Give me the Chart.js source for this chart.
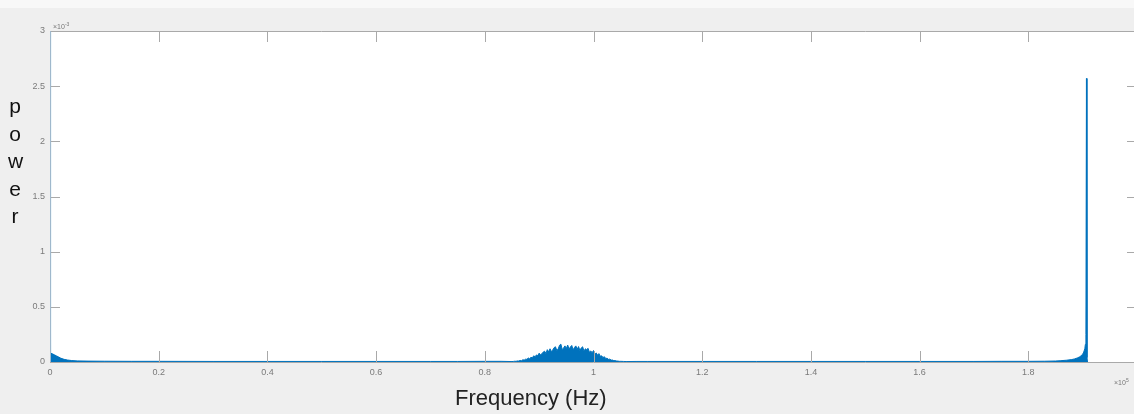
<!DOCTYPE html>
<html>
<head>
<meta charset="utf-8">
<script src="https://cdn.jsdelivr.net/npm/chart.js@4"></script>
<style>
  html, body { margin: 0; padding: 0; background: #efefef; overflow: hidden; }
  #wrap { position: relative; width: 1160px; height: 414px; }
  #topstrip { position: absolute; left: 0; top: 0; width: 1160px; height: 8px; background: #f8f8f8; }
  #chart { position: absolute; left: 0; top: 0; }
  .lbl { position: absolute; font-family: "Liberation Sans", Arial, sans-serif; }
  #ytitle { left: 8px; top: 92px; font-size: 21px; line-height: 27.5px; color: #111; text-align: center; width: 14px; }
  #xtitle { left: 455px; top: 385px; font-size: 22px; color: #222; }
  #yexp { left: 53px; top: 21px; font-size: 7px; color: #777; }
  #xexp { left: 1114px; top: 377px; font-size: 7px; color: #777; }
  sup { font-size: 5px; }
</style>
</head>
<body>
<div id="wrap">
  <div id="topstrip"></div>
  <canvas id="chart" width="1160" height="414"></canvas>
  <div class="lbl" id="ytitle">p<br>o<br>w<br>e<br>r</div>
  <div class="lbl" id="xtitle">Frequency (Hz)</div>
  <div class="lbl" id="yexp">&times;10<sup>-3</sup></div>
  <div class="lbl" id="xexp">&times;10<sup>5</sup></div>
</div>
<script>
// frequency in units of 1e5 Hz, power in units of 1e-3
const freq = [
  0, 0.001, 0.004, 0.008, 0.012, 0.016, 0.02, 0.026, 0.032, 0.04, 0.05, 0.07, 0.1, 0.15, 0.2, 0.3, 0.4, 0.5, 0.6, 0.7, 0.75, 0.8, 0.83,
  0.85, 0.8525, 0.855, 0.8575, 0.86, 0.8625, 0.865, 0.8675, 0.87, 0.8725, 0.875, 0.8775, 0.88, 0.8825, 0.885, 0.8875,
  0.89, 0.8925, 0.895, 0.8975, 0.9, 0.9025, 0.905, 0.9075, 0.91, 0.9125, 0.915, 0.9175, 0.92, 0.9225, 0.925, 0.9275,
  0.93, 0.9325, 0.935, 0.9375, 0.94, 0.9425, 0.945, 0.9475, 0.95, 0.9525, 0.955, 0.9575, 0.96, 0.9625, 0.965, 0.9675,
  0.97, 0.9725, 0.975, 0.9775, 0.98, 0.9825, 0.985, 0.9875, 0.99, 0.9925, 0.995, 0.9975, 1.0, 1.0025, 1.005, 1.0075,
  1.01, 1.0125, 1.015, 1.0175, 1.02, 1.0225, 1.025, 1.0275, 1.03, 1.0325, 1.035, 1.0375, 1.04, 1.0425, 1.045, 1.0475,
  1.05, 1.055, 1.06, 1.08, 1.1, 1.2, 1.3, 1.4, 1.5, 1.6, 1.7, 1.75, 1.8, 1.83, 1.85, 1.86, 1.87, 1.88, 1.885, 1.89, 1.895, 1.9, 1.902,
  1.904, 1.905, 1.906, 1.907, 1.908, 1.909
];
const power = [
  3.5, 0.08, 0.075, 0.065, 0.055, 0.045, 0.034, 0.024, 0.018, 0.013, 0.01, 0.008, 0.007, 0.006, 0.006, 0.005, 0.005, 0.005, 0.005, 0.005, 0.005, 0.006, 0.006,
  0.004, 0.005, 0.007, 0.006, 0.010, 0.009, 0.014, 0.012, 0.020, 0.017, 0.026, 0.024, 0.036, 0.030, 0.042, 0.038,
  0.056, 0.047, 0.064, 0.058, 0.080, 0.066, 0.074, 0.090, 0.098, 0.078, 0.112, 0.092, 0.120, 0.096, 0.108, 0.130,
  0.138, 0.104, 0.118, 0.152, 0.162, 0.112, 0.128, 0.146, 0.122, 0.154, 0.118, 0.136, 0.150, 0.110, 0.132, 0.146,
  0.116, 0.140, 0.104, 0.128, 0.138, 0.098, 0.120, 0.112, 0.124, 0.088, 0.100, 0.084, 0.104, 0.070, 0.082, 0.062,
  0.076, 0.052, 0.056, 0.040, 0.048, 0.032, 0.034, 0.024, 0.026, 0.017, 0.018, 0.012, 0.013, 0.009, 0.008, 0.006,
  0.006, 0.005, 0.004, 0.005, 0.005, 0.005, 0.005, 0.005, 0.005, 0.005, 0.005, 0.006, 0.006, 0.007, 0.009, 0.012, 0.016, 0.022, 0.028, 0.036, 0.048, 0.07, 0.09,
  0.12, 0.16, 0.25, 2.57, 0.04, 0
];
const xTicks = [0, 0.2, 0.4, 0.6, 0.8, 1, 1.2, 1.4, 1.6, 1.8, 2];
const yTicks = [0, 0.5, 1, 1.5, 2, 2.5, 3];

const blue = '#0072BD';
const axisGray = '#a9a9a9';

const boxPlugin = {
  id: 'box',
  beforeDraw(chart) {
    const { ctx, chartArea: a } = chart;
    ctx.save();
    ctx.fillStyle = '#ffffff';
    ctx.fillRect(a.left, a.top, a.right - a.left, a.bottom - a.top);
    ctx.restore();
  },
  afterDatasetsDraw(chart) {
    const { ctx, chartArea: a, scales } = chart;
    ctx.save();
    ctx.strokeStyle = axisGray;
    ctx.lineWidth = 1;
    ctx.beginPath();
    ctx.moveTo(a.left, a.top + 0.5); ctx.lineTo(a.right, a.top + 0.5);
    ctx.moveTo(a.left, a.bottom + 0.5); ctx.lineTo(a.right, a.bottom + 0.5);
    ctx.moveTo(a.right - 0.5, a.top); ctx.lineTo(a.right - 0.5, a.bottom);
    xTicks.forEach(v => {
      const x = Math.round(scales.x.getPixelForValue(v)) + 0.5;
      ctx.moveTo(x, a.bottom); ctx.lineTo(x, a.bottom - 11);
      ctx.moveTo(x, a.top); ctx.lineTo(x, a.top + 11);
    });
    yTicks.forEach(v => {
      const y = Math.round(scales.y.getPixelForValue(v)) + 0.5;
      ctx.moveTo(a.left, y); ctx.lineTo(a.left + 10, y);
      ctx.moveTo(a.right, y); ctx.lineTo(a.right - 10, y);
    });
    ctx.stroke();
    ctx.strokeStyle = '#9fb8cc';
    ctx.beginPath();
    ctx.moveTo(a.left + 0.5, a.top); ctx.lineTo(a.left + 0.5, a.bottom);
    ctx.stroke();
    ctx.restore();
  }
};

new Chart(document.getElementById('chart').getContext('2d'), {
  type: 'line',
  data: {
    datasets: [{
      data: freq.map((f, i) => ({ x: f, y: power[i] })),
      borderColor: blue,
      backgroundColor: blue,
      borderWidth: 1,
      pointRadius: 0,
      tension: 0,
      fill: 'origin'
    }]
  },
  options: {
    responsive: false,
    animation: false,
    layout: { padding: { top: 31, right: 23, left: 0, bottom: 0 } },
    plugins: { legend: { display: false }, tooltip: { enabled: false } },
    scales: {
      x: {
        type: 'linear', min: 0, max: 2,
        afterFit: s => { s.height = 52; },
        afterBuildTicks: s => { s.ticks = xTicks.map(v => ({ value: v })); },
        grid: { display: false, drawTicks: false },
        border: { display: false },
        ticks: {
          autoSkip: false, maxRotation: 0, padding: 5,
          color: '#7a7a7a', font: { family: 'Liberation Sans', size: 9 },
          callback: v => String(Number(v.toFixed(1)))
        }
      },
      y: {
        type: 'linear', min: 0, max: 3,
        afterFit: s => { s.width = 50; },
        afterBuildTicks: s => { s.ticks = yTicks.map(v => ({ value: v })); },
        grid: { display: false, drawTicks: false },
        border: { display: false },
        ticks: {
          padding: 5,
          color: '#7a7a7a', font: { family: 'Liberation Sans', size: 9 },
          callback: v => String(v)
        }
      }
    }
  },
  plugins: [boxPlugin]
});
</script>
</body>
</html>
